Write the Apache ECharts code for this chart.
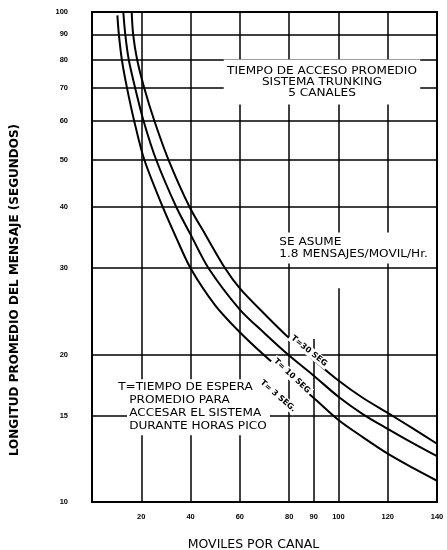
<!DOCTYPE html>
<html><head><meta charset="utf-8">
<script src="https://cdn.jsdelivr.net/npm/echarts@6/dist/echarts.min.js"></script>
<style>html,body{margin:0;padding:0;background:#fff}#c{width:447px;height:550px}</style>
</head><body><div id="c"></div>
<script>
// ---- data ----
const xTicks = [20, 40, 60, 80, 90, 100, 120, 140];
const yTicks = [10, 15, 20, 30, 40, 50, 60, 70, 80, 90, 100];
const xGridFull = [20, 40, 60, 80, 120];
const yGridFull = [15, 20, 30, 40, 50, 60, 70, 80, 90];
const seriesNames = ['T = 3 SEG', 'T = 10 SEG', 'T = 30 SEG'];
const t3 = [[10.3,98.4],[10.9,90],[12.1,80],[14.2,70],[17.1,60],[21.2,50],[28.7,40],[34.2,34.6],[40,30],[50,25.2],[60,22.2],[70,19.9],[80,18],[90,16.3],[100,14.7],[110,13.55],[120,12.55],[130,11.75],[140,11.05]];
const t10 = [[12.7,100],[13.5,90],[14.9,80],[17.5,70],[20.9,60],[26,50],[34.2,40],[40.2,35],[47.3,30],[60,24.7],[70,22.1],[80,19.9],[90,18.1],[100,16.4],[110,15.1],[120,14.1],[130,13.2],[140,12.4]];
const t30 = [[16.1,100],[16.7,90],[18.3,80],[21.2,70],[25.3,60],[31,50],[39.6,40],[46.2,35],[54,30],[60,27.3],[70,24.2],[80,21.6],[90,19.5],[100,17.7],[110,16.3],[120,15.2],[130,14.15],[140,13.15]];

const chart = echarts.init(document.getElementById('c'));
const gridLines = [];
yTicks.forEach(v => gridLines.push({yAxis: v, label: {show: true, position: 'start', formatter: String(v), distance: 24, color: '#000', fontSize: 7.5, fontWeight: 'bold', fontFamily: 'Liberation Sans'}}));
xGridFull.forEach(v => gridLines.push({xAxis: v, label: {show: false}}));
gridLines.push([{coord: [90, 10]}, {coord: [90, 21.5]}]);
gridLines.push([{coord: [100, 10]}, {coord: [100, 27.3]}]);
gridLines.push([{coord: [100, 34]}, {coord: [100, 100]}]);

const curveStyle = {color: '#000', width: 2};
function mk(name, data, extra) {
  return Object.assign({
    name, type: 'line', data, smooth: 0.3, showSymbol: false, symbol: 'none',
    lineStyle: curveStyle, z: 3
  }, extra || {});
}
const font = 'DejaVu Sans';
const txt = (x, y, text, o) => ({type: 'text', x, y, z: 100, rotation: (o && o.rot) || 0,
  scaleX: (o && o.sx) || 1,
  style: Object.assign({text, fill: '#000', font: (o && o.font) || ('11px ' + font),
    align: 'left', verticalAlign: 'middle', backgroundColor: '#fff', padding: 0}, (o && o.style) || {})});

chart.setOption({
  animation: false,
  backgroundColor: '#fff',
  grid: {left: 92, right: 10, top: 12, bottom: 48, containLabel: false, outerBoundsMode: 'none',
    show: true, borderColor: '#000', borderWidth: 2},
  xAxis: {type: 'value', min: 0, max: 140, interval: 10,
    axisLine: {show: false}, axisTick: {show: false}, splitLine: {show: false},
    axisLabel: {formatter: v => xTicks.includes(v) ? String(v) : '', margin: 11, color: '#000', fontSize: 7.5, fontWeight: 'bold', fontFamily: 'Liberation Sans'},
    name: 'MOVILES POR CANAL', nameLocation: 'middle', nameGap: 36,
    nameTextStyle: {color: '#000', fontSize: 12.5, fontFamily: font, padding: [0, 22, 0, 0]}},
  yAxis: {type: 'log', logBase: 10, min: 10, max: 100,
    axisLine: {show: false}, axisTick: {show: false}, splitLine: {show: false}, axisLabel: {show: false},
    name: 'LONGITUD PROMEDIO DEL MENSAJE (SEGUNDOS)', nameLocation: 'middle', nameGap: 71, nameRotate: 90,
    nameTextStyle: {color: '#000', fontSize: 12, fontWeight: 'bold', fontFamily: font, padding: [0, 66, 0, 0]}},
  series: [
    mk(seriesNames[0], t3, {markLine: {silent: true, symbol: ['none', 'none'], animation: false,
      lineStyle: {color: '#000', width: 1.5, type: 'solid'}, data: gridLines}}),
    mk(seriesNames[1], t10),
    mk(seriesNames[2], t30)
  ],
  graphic: [
    txt(322, 82, 'TIEMPO DE ACCESO PROMEDIO\nSISTEMA TRUNKING\n5 CANALES', {sx: 1.1, style: {align: 'center', lineHeight: 11, padding: [4, 3, 8, 3]}}),
    txt(276, 248, 'SE ASUME\n1.8 MENSAJES/MOVIL/Hr.', {sx: 1.1, style: {lineHeight: 12.5, padding: [3, 3, 3, 3]}}),
    txt(116, 386.7, 'T=TIEMPO DE ESPERA', {sx: 1.1, style: {padding: [3, 3, 1, 2]}}),
    txt(127, 413.3, 'PROMEDIO PARA\nACCESAR EL SISTEMA\nDURANTE HORAS PICO', {sx: 1.1, style: {lineHeight: 13.3, padding: [1, 3, 3, 2]}}),
    txt(309, 351, 'T=30 SEG', {rot: -39 * Math.PI / 180, font: 'bold 8px ' + font, style: {align: 'center', padding: [1, 2]}}),
    txt(292, 376, 'T= 10 SEG', {rot: -43 * Math.PI / 180, font: 'bold 8px ' + font, style: {align: 'center', padding: [1, 2]}}),
    txt(278, 396, 'T= 3 SEG.', {rot: -41 * Math.PI / 180, font: 'bold 8px ' + font, style: {align: 'center', padding: [1, 2]}})
  ]
});
</script></body></html>
